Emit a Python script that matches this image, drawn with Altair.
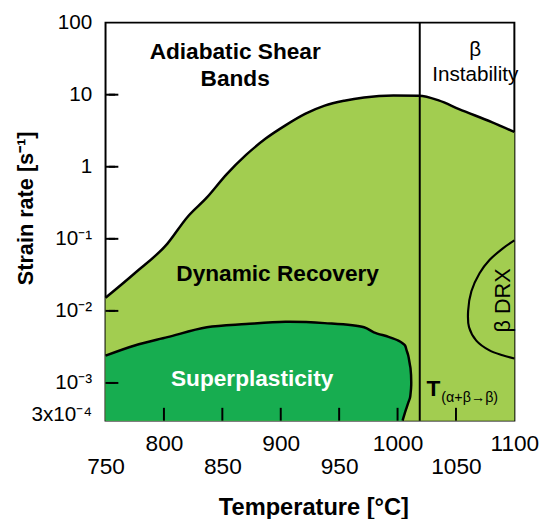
import altair as alt
import pandas as pd

FONT = "Liberation Sans"

# --- boundary between adiabatic shear bands (above) and dynamic recovery (below)
T_UPPER = [750, 775, 803, 819.8, 836.6, 853.4, 870.3, 887.1, 904.0, 920.8, 937.6,
           954.4, 971.3, 996.5, 1018.4, 1035.2, 1052.6, 1080.6, 1100]
RATE_UPPER = [0.0152, 0.0333, 0.0859, 0.198, 0.372, 0.778, 1.46, 2.46, 3.75, 5.41, 7.05,
              8.24, 9.14, 9.72, 9.64, 8.32, 6.32, 4.16, 3.04]

# --- superplasticity region (top edge and bottom edge)
T_SP = [750, 775, 803, 836.7, 870.3, 904.0, 937.6, 971.3, 979.7, 992.3, 1000.7,
        1004.3, 1006.4, 1007.7, 1009.1, 1010.6, 1011.1, 1011.7]
SP_TOP = [0.00239, 0.00331, 0.00432, 0.00592, 0.00656, 0.00705, 0.00676, 0.00592, 0.00505,
          0.00436, 0.00387, 0.00355, 0.00331, 0.00285, 0.00242, 0.00177, 0.00159, 0.00094]
SP_BOTTOM = [0.0003, 0.0003, 0.0003, 0.0003, 0.0003, 0.0003, 0.0003, 0.0003, 0.0003,
             0.0003, 0.0003, 0.0003, 0.00039, 0.000452, 0.000528, 0.000619, 0.000701, 0.00094]

# --- beta DRX boundary
T_DRX = [1100, 1089.9, 1078.7, 1070.2, 1063.2, 1060.4, 1061.2, 1067.4, 1078.7, 1089.9, 1100]
RATE_DRX = [0.0953, 0.0733, 0.0507, 0.0333, 0.0187, 0.00997, 0.00592, 0.00387, 0.00283,
            0.00242, 0.00218]

# --- beta transus
T_TRANSUS = 1019

RATE_MIN = 0.0003
RATE_MAX = 100
T_MIN, T_MAX = 750, 1100

X_TICKS = [750, 800, 850, 900, 950, 1000, 1050, 1100]
X_TICK_MARKS = [800, 850, 900, 950, 1000, 1050]
Y_TICKS = [0.0003, 0.001, 0.01, 0.1, 1, 10, 100]
Y_TICK_MARKS = [0.001, 0.01, 0.1, 1, 10]
Y_LABELS = ["3x10⁻⁴", "10⁻³", "10⁻²", "10⁻¹", "1", "10", "100"]

LIGHT = "#a2cd50"
DARK = "#17ad50"

PLOT_W, PLOT_H = 415, 404
TICK_PX = 13

# label lookup expression built from the lists
parts = []
for v, lab in zip(Y_TICKS, Y_LABELS):
    parts.append(f"abs(log(datum.value) - log({v})) < 0.01 ? '{lab}' : ")
y_label_expr = "".join(parts) + "''"

x_scale = alt.Scale(domain=[T_MIN, T_MAX], nice=False, zero=False)
x_enc = alt.X(
    "T:Q",
    scale=x_scale,
    axis=alt.Axis(
        values=X_TICKS, format="d",
        labelExpr="datum.value % 100 == 0 ? datum.label : ['', datum.label]",
        ticks=False, tickSize=0, domain=False, grid=False,
        labelFont=FONT, labelFontSize=23, labelColor="black", labelPadding=12,
        labelBaseline="top", labelLineHeight=23.5, labelFlush=False, labelOverlap=False,
        title="Temperature [°C]", titleFont=FONT, titleFontSize=24, titleFontWeight="bold",
        titleColor="black", titleX=211, titleY=95, titleBaseline="alphabetic",
        titleAlign="center", titleAnchor="middle",
    ),
)
y_enc = alt.Y(
    "rate:Q",
    scale=alt.Scale(type="log", domain=[RATE_MIN, RATE_MAX], nice=False),
    axis=alt.Axis(
        values=Y_TICKS, labelExpr=y_label_expr,
        ticks=False, tickSize=0, domain=False, grid=False,
        labelFont=FONT, labelFontSize=21, labelColor="black", labelPadding=14,
        labelBaseline={"condition": {"test": "datum.value < 0.0005", "value": "alphabetic"},
                       "value": "middle"},
        labelOverlap=False, labelFlush=False,
        title="Strain rate [s⁻¹]", titleFont=FONT, titleFontSize=22, titleFontWeight="bold",
        titleColor="black", titleX=-74, titleY=188, titleAngle=270,
        titleBaseline="alphabetic", titleAlign="center", titleAnchor="middle",
    ),
)

upper_df = pd.DataFrame({"T": T_UPPER, "rate": RATE_UPPER, "base": [RATE_MIN] * len(T_UPPER)})
sp_df = pd.DataFrame({"T": T_SP, "rate": SP_TOP, "base": SP_BOTTOM})

# boundary line for superplasticity: along top, then back down the bottom edge
sp_line_T = T_SP + T_SP[::-1][1:7]
sp_line_r = SP_TOP + SP_BOTTOM[::-1][1:7]
sp_line_df = pd.DataFrame({"T": sp_line_T, "rate": sp_line_r, "o": list(range(len(sp_line_T)))})

drx_df = pd.DataFrame({"T": T_DRX, "rate": RATE_DRX, "o": list(range(len(T_DRX)))})
transus_df = pd.DataFrame({"T": [T_TRANSUS], "rate": [RATE_MIN], "rate2": [RATE_MAX]})
xtick_df = pd.DataFrame({"T": X_TICK_MARKS})

# inward y ticks: horizontal segments beginning at the left frame, combined in one
# segment table with the same structure as the transus rule (x, x2, y, y2 all fields)
tick_len_T = TICK_PX * (T_MAX - T_MIN) / PLOT_W
seg_T, seg_T2, seg_r, seg_r2 = [], [], [], []
for v in Y_TICK_MARKS:
    seg_T.append(T_MIN)
    seg_T2.append(T_MIN + tick_len_T)
    seg_r.append(v)
    seg_r2.append(v)
ytick_df = pd.DataFrame({"T": seg_T, "T2": seg_T2, "rate": seg_r, "rate2": seg_r2})
# centres of the y ticks for a point-based fallback
ytick_pt_df = pd.DataFrame({"T": [T_MIN + tick_len_T / 2] * len(Y_TICK_MARKS),
                            "rate": Y_TICK_MARKS})

light_area = alt.Chart(upper_df).mark_area(color=LIGHT, interpolate="monotone").encode(
    x=x_enc, y=y_enc, y2=alt.Y2("base"))
dark_area = alt.Chart(sp_df).mark_area(color=DARK, interpolate="monotone").encode(
    x=x_enc, y=y_enc, y2=alt.Y2("base"))
upper_line = alt.Chart(upper_df).mark_line(color="black", strokeWidth=2.5,
                                           interpolate="monotone").encode(x=x_enc, y=y_enc)
sp_line = alt.Chart(sp_line_df).mark_line(color="black", strokeWidth=2.5,
                                          interpolate="catmull-rom").encode(
    x=x_enc, y=y_enc, order="o:Q")
drx_line = alt.Chart(drx_df).mark_line(color="black", strokeWidth=2.2,
                                       interpolate="catmull-rom").encode(
    x=x_enc, y=y_enc, order="o:Q")
transus = alt.Chart(transus_df).mark_rule(color="black", strokeWidth=2).encode(
    x=x_enc, y=y_enc, y2=alt.Y2("rate2"))
xticks = alt.Chart(xtick_df).mark_rule(color="black", strokeWidth=2).encode(
    x=x_enc, y=alt.value(PLOT_H - TICK_PX), y2=alt.value(PLOT_H))
yticks = alt.Chart(ytick_df).mark_rule(color="black", strokeWidth=2).encode(
    x=x_enc, x2=alt.X2("T2"), y=y_enc, y2=alt.Y2("rate2"))
yticks_pts = alt.Chart(ytick_pt_df).mark_point(
    shape="M-1,0L1,0", size=TICK_PX * TICK_PX / 4, filled=False, stroke="black",
    strokeWidth=2, opacity=1).encode(x=x_enc, y=y_enc)


def label(text, T, rate, size, weight="normal", color="black", align="center", angle=0,
          baseline="alphabetic"):
    df = pd.DataFrame({"T": [T], "rate": [rate], "txt": [text]})
    kw = dict(font=FONT, fontSize=size, fontWeight=weight, color=color, align=align,
              baseline=baseline)
    if angle:
        kw["angle"] = angle
    return alt.Chart(df).mark_text(**kw).encode(x=x_enc, y=y_enc, text="txt:N")


texts = [
    label("Adiabatic Shear", 861, 31.2, 23, "bold"),
    label("Bands", 861, 13.2, 23, "bold"),
    label("β", 1066.5, 34.8, 21),
    label("Instability", 1066.5, 15.5, 21),
    label("Dynamic Recovery", 897.3, 0.0256, 23, "bold"),
    label("Superplasticity", 875.5, 0.000904, 23, "bold", color="white"),
    label("β DRX", 1090, 0.01396, 22, angle=270, baseline="middle"),
    label("T", 1024.7, 0.000653, 23, "bold", align="left"),
    label("(α+β→β)", 1037.5, 0.000546, 14.5, align="left"),
]

chart = alt.layer(light_area, dark_area, upper_line, sp_line, drx_line, transus,
                  xticks, yticks, yticks_pts, *texts).properties(
    width=PLOT_W, height=PLOT_H,
    padding={"left": 99, "top": 11, "right": 25, "bottom": 96},
    autosize=alt.AutoSizeParams(type="none"),
    background="white",
).configure_view(stroke="black", strokeWidth=2)

chart.save("out.html", embed_options={"renderer": "svg", "actions": False})
